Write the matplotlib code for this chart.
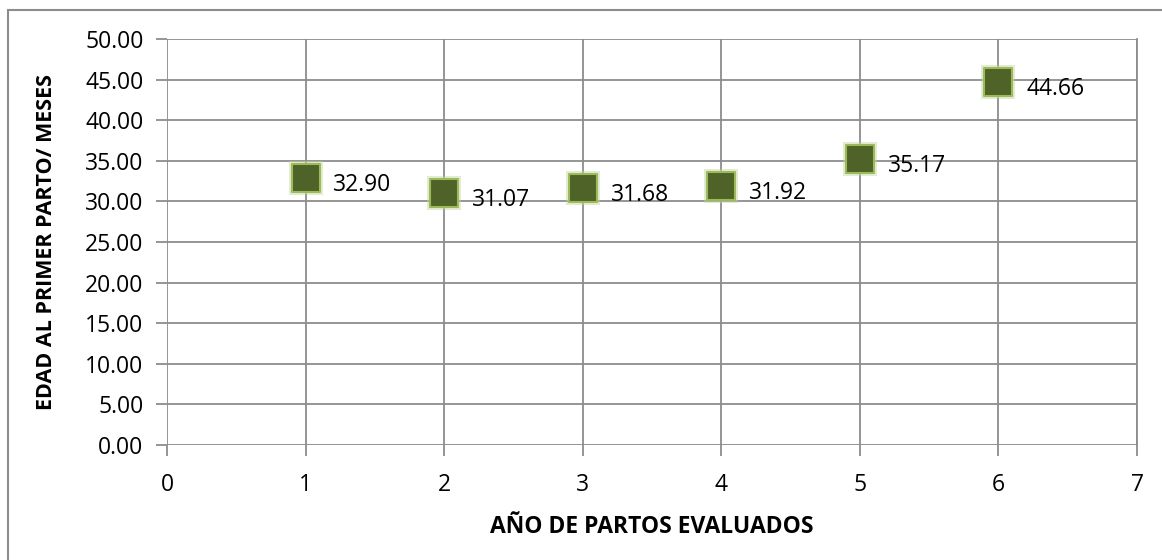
import matplotlib
matplotlib.use("Agg")
import matplotlib.pyplot as plt
from matplotlib.patches import Rectangle

anios = [1, 2, 3, 4, 5, 6]
edad_meses = [32.90, 31.07, 31.68, 31.92, 35.17, 44.66]
y_ticks = [0, 5, 10, 15, 20, 25, 30, 35, 40, 45, 50]
x_ticks = [0, 1, 2, 3, 4, 5, 6, 7]

plt.rcParams['font.family'] = ['Open Sans', 'DejaVu Sans']

W, H = 1162, 560
fig = plt.figure(figsize=(W / 100, H / 100), dpi=100)
ax = fig.add_axes([167 / W, 1 - 445 / H, (1137 - 167) / W, (445 - 39) / H])

# outer chart frame
fig.patches.append(Rectangle((8 / W, -0.1), 1.2, 1 - 10 / H + 0.1,
                             transform=fig.transFigure, fill=False,
                             edgecolor='#8c8c8c', linewidth=1.5))

ax.set_xlim(0, 7)
ax.set_ylim(0, 50)
ax.set_xticks(x_ticks)
ax.set_yticks(y_ticks)
ax.set_yticklabels([f"{v:.2f}" for v in y_ticks])
ax.grid(True, color='#8c8c8c', linewidth=1.3)
ax.set_axisbelow(True)
for side in ['top', 'left', 'bottom']:
    ax.spines[side].set_visible(False)
ax.spines['right'].set_color('#8c8c8c')
ax.spines['right'].set_linewidth(1.3)
ax.tick_params(axis='both', length=8, color='#8c8c8c', width=1.3,
               labelsize=16.5, direction='out')
ax.tick_params(axis='y', pad=9)
ax.tick_params(axis='x', pad=12)

# soft glow behind markers
ax.scatter(anios, edad_meses, marker='s', s=600, color='#c3d69b', alpha=0.45,
           linewidths=0, zorder=3)
ax.scatter(anios, edad_meses, marker='s', s=400, color='#4f6228',
           edgecolors='#9bbb59', linewidths=1.5, zorder=4)

for x, y in zip(anios, edad_meses):
    ax.annotate(f"{y:.2f}", (x, y), xytext=(20, -5), textcoords='offset points',
                ha='left', va='center', fontsize=16.5, zorder=5)

ax.set_xlabel("AÑO DE PARTOS EVALUADOS", fontsize=16.5, fontweight='bold', labelpad=13)
ax.set_ylabel("EDAD AL PRIMER PARTO/ MESES", fontsize=15.5, fontweight='bold', labelpad=20)

fig.savefig("out.png", dpi=100)
